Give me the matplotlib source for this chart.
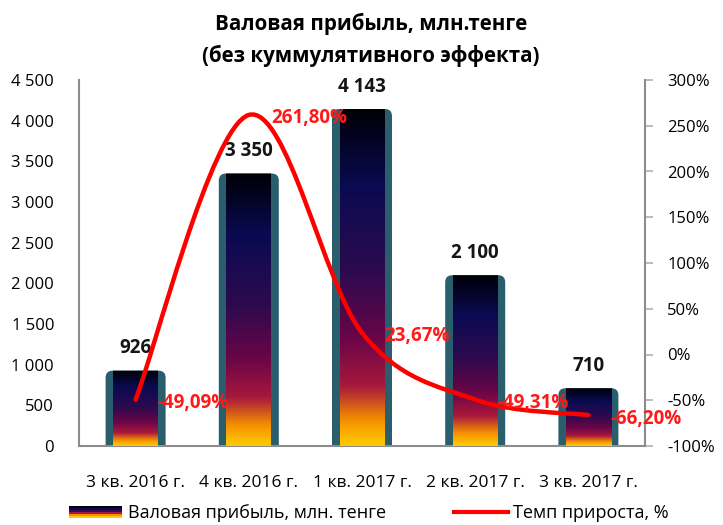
import numpy as np
import matplotlib
matplotlib.use("Agg")
import matplotlib.pyplot as plt
from matplotlib.patches import FancyBboxPatch, Rectangle, PathPatch
from matplotlib.path import Path
from matplotlib.colors import LinearSegmentedColormap
from matplotlib.legend_handler import HandlerBase
from matplotlib.lines import Line2D

quarters = ["3 кв. 2016 г.", "4 кв. 2016 г.", "1 кв. 2017 г.", "2 кв. 2017 г.", "3 кв. 2017 г."]
profit = [926, 3350, 4143, 2100, 710]
growth = [-49.09, 261.80, 23.67, -49.31, -66.20]
profit_labels = ["926", "3 350", "4 143", "2 100", "710"]
growth_labels = ["-49,09%", "261,80%", "23,67%", "-49,31%", "-66,20%"]
left_ticks = [0, 500, 1000, 1500, 2000, 2500, 3000, 3500, 4000, 4500]
left_tick_labels = ["0", "500", "1 000", "1 500", "2 000", "2 500", "3 000", "3 500", "4 000", "4 500"]
right_ticks = [-100, -50, 0, 50, 100, 150, 200, 250, 300]

plt.rcParams['font.family'] = ['Open Sans', 'DejaVu Sans']

teal = "#2b5e6c"
grad = LinearSegmentedColormap.from_list("bar", [
    (0.0, "#ffc800"), (0.07, "#f59000"), (0.17, "#a8183c"),
    (0.32, "#680548"), (0.52, "#2c0a4e"), (0.78, "#0a0a52"), (1.0, "#000008")])

W, H = 723, 525
fig = plt.figure(figsize=(W / 100, H / 100), dpi=100)
ax_l, ax_b, ax_w, ax_h = 79, 79, 566, 366
ax = fig.add_axes([ax_l / W, ax_b / H, ax_w / W, ax_h / H])

x = np.arange(len(quarters))
xmin, xmax = -0.5, len(quarters) - 0.5
ymax = 4500
sx = ax_w / (xmax - xmin)   # px per category unit
sy = ax_h / ymax            # px per value unit

bar_w = 60 / sx
bars = ax.bar(x, profit, width=bar_w, color=teal, zorder=2)
inset = 7.5 / sx
for rect in bars:
    rect.set_visible(False)
    x0, w, h = rect.get_x(), rect.get_width(), rect.get_height()
    shape = FancyBboxPatch((x0, -400), w, h + 400,
                           boxstyle=f"round,pad=0,rounding_size={7 / sx}",
                           mutation_aspect=sx / sy, fc=teal, ec="none", zorder=2)
    ax.add_patch(shape)
    im = ax.imshow(np.linspace(0, 1, 64).reshape(-1, 1), cmap=grad, origin="lower",
                   extent=[x0 + inset, x0 + w - inset, 0, h], aspect="auto", zorder=3,
                   interpolation="bicubic", interpolation_stage="rgba")
    im.set_clip_path(shape)

for xi, v, lab in zip(x, profit, profit_labels):
    ax.annotate(lab, (xi, v), xytext=(0, 9), textcoords="offset points",
                ha="center", va="bottom", fontsize=13.5, fontweight="bold", color="#151515")

ax.set_xlim(xmin, xmax)
ax.set_ylim(0, ymax)
ax.set_yticks(left_ticks)
ax.set_yticklabels(left_tick_labels)
ax.set_xticks(x)
ax.set_xticklabels(quarters)
ax.tick_params(axis="y", length=0, pad=18, labelsize=12)
ax.tick_params(axis="x", length=0, pad=21, labelsize=12.5)
for s in ["top", "right"]:
    ax.spines[s].set_visible(False)
for s in ["left", "bottom"]:
    ax.spines[s].set_color("#8c8c8c")
    ax.spines[s].set_linewidth(1.5)

ax2 = ax.twinx()
ax2.set_ylim(-100, 300)
ax2.set_yticks(right_ticks)
ax2.set_yticklabels([f"{t}%" for t in right_ticks])
ax2.tick_params(axis="y", length=6, width=1.2, color="#b0b0b0", pad=10, labelsize=12)
for s in ["top", "left", "bottom"]:
    ax2.spines[s].set_visible(False)
ax2.spines["right"].set_color("#8c8c8c")
ax2.spines["right"].set_linewidth(1.5)

# smoothed line (Excel-like), control points computed in pixel space
gy = ax_h / 400
pts = np.column_stack([x * sx, (np.array(growth) + 100) * gy])
verts = [pts[0]]
codes = [Path.MOVETO]
n = len(pts)
for i in range(n - 1):
    p0 = pts[i - 1] if i > 0 else pts[i]
    p3 = pts[i + 2] if i + 2 < n else pts[i + 1]
    verts += [pts[i] + (pts[i + 1] - p0) / 6, pts[i + 1] - (p3 - pts[i]) / 6, pts[i + 1]]
    codes += [Path.CURVE4] * 3
verts = np.array(verts)
verts[:, 0] = verts[:, 0] / sx
verts[:, 1] = verts[:, 1] / gy - 100
ax2.add_patch(PathPatch(Path(verts, codes), fill=False, ec="#ff0000", lw=3.2,
                        capstyle="round", zorder=4))

for xi, g, lab in zip(x, growth, growth_labels):
    ax2.annotate(lab, (xi, g), xytext=(16, -2.5), textcoords="offset points",
                 ha="left", va="center", fontsize=13.5, fontweight="bold", color="#ff1a1a", zorder=5)

fig.text(0.513, 0.955, "Валовая прибыль, млн.тенге", ha="center", va="center",
         fontsize=14.8, fontweight="bold")
fig.text(0.513, 0.893, "(без куммулятивного эффекта)", ha="center", va="center",
         fontsize=14.8, fontweight="bold")


class GradientHandle(HandlerBase):
    def create_artists(self, legend, orig, xd, yd, width, height, fontsize, trans):
        cols = ["#000010", "#0a0a52", "#3a0a4e", "#a8183c", "#f59000", "#ffc800"]
        arts = []
        hh = height * 1.0 / len(cols)
        top = yd + height * 1.0
        for k, c in enumerate(cols):
            arts.append(Rectangle((xd, top - (k + 1) * hh), width, hh, fc=c, ec="none",
                                  transform=trans))
        return arts


h1 = Rectangle((0, 0), 1, 1)
h2 = Line2D([], [], color="#ff0000", lw=3)
fig.legend([h1, h2], ["Валовая прибыль, млн. тенге", "Темп прироста, %"],
           handler_map={Rectangle: GradientHandle()},
           loc="center", bbox_to_anchor=(0.51, 0.022), ncol=2, frameon=False,
           fontsize=13, handlelength=2.95, handletextpad=0.28, columnspacing=3.8,
           borderpad=0, borderaxespad=0)

fig.savefig("out.png", dpi=100)
